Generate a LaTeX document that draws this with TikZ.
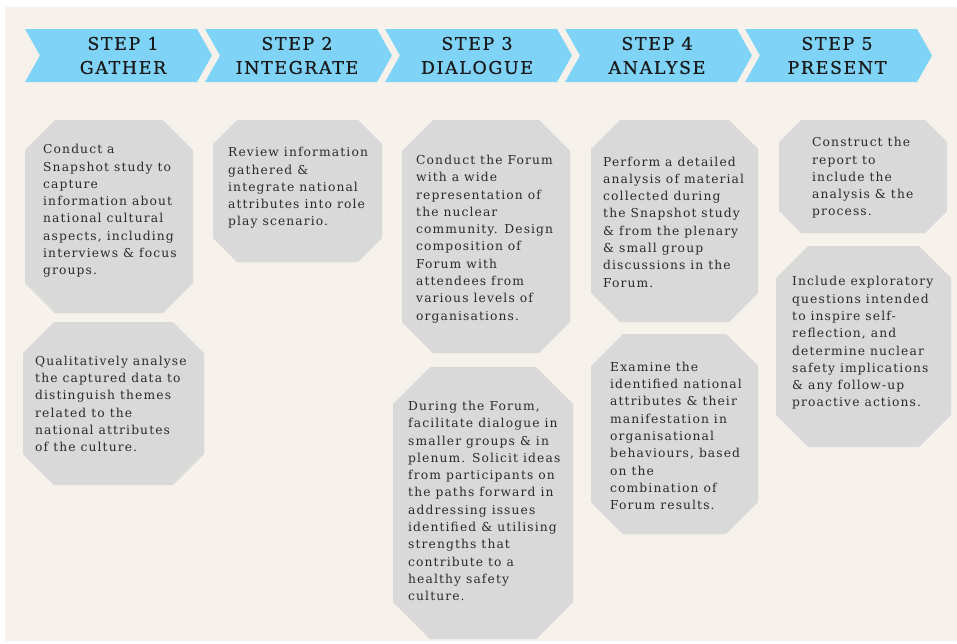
\documentclass[tikz,border=0pt]{standalone}
\usepackage{fontspec}
\setmainfont{DejaVu Serif}[LetterSpace=9]
\newfontfamily\headfont{DejaVu Serif}[LetterSpace=9,FakeBold=0.6]
\definecolor{paper}{HTML}{F6F1EA}
\definecolor{chevblue}{HTML}{7ED3F7}
\definecolor{boxgray}{HTML}{D9D9D9}
\definecolor{inkdark}{HTML}{1A1A1A}
\definecolor{inkbody}{HTML}{2B2B2B}

\tikzstyle{head}=[align=center,inner sep=0pt,text=inkdark,font=\headfont\fontsize{17.5}{24}\selectfont]
\tikzstyle{body}=[anchor=west,align=left,inner sep=0pt,text=inkbody,font=\fontsize{12.3}{17.3}\selectfont]

% chevron with its left edge at #1
\newcommand{\chev}[1]{\fill[chevblue] (#1,29) -- (#1+172,29) -- (#1+187,55.5) -- (#1+172,82) -- (#1,82) -- (#1+15,55.5) -- cycle;}
% octagon: left, top, right, bottom, corner cut
\newcommand{\octa}[5]{\fill[boxgray] (#1+#5,#2) -- (#3-#5,#2) -- (#3,#2+#5) -- (#3,#4-#5) -- (#3-#5,#4) -- (#1+#5,#4) -- (#1,#4-#5) -- (#1,#2+#5) -- cycle;}

\begin{document}
\begin{tikzpicture}[x=1pt,y=-1pt]
	\useasboundingbox (0,0) rectangle (957,643);
	\fill[white] (0,0) rectangle (957,643);
	\fill[paper] (5,7) rectangle (957,641);
	
	\chev{25} \chev{205} \chev{385} \chev{565} \chev{745}
	
	\node[head] (s1) at (123,55.5) {STEP 1\\GATHER};
	\node[head] (s2) at (297,55.5) {STEP 2\\INTEGRATE};
	\node[head] (s3) at (477,55.5) {STEP 3\\DIALOGUE};
	\node[head] (s4) at (657,55.5) {STEP 4\\ANALYSE};
	\node[head] (s5) at (837,55.5) {STEP 5\\PRESENT};
	
	\octa{25}{120}{193}{313}{30}
	\octa{23}{322}{204}{485}{31}
	\octa{213}{120}{382}{262}{24}
	\octa{402}{120}{570}{353}{31}
	\octa{393}{367}{573}{639}{37}
	\octa{591}{120}{758}{322}{29}
	\octa{591}{334}{758}{534}{32}
	\octa{779}{120}{947}{233}{22}
	\octa{776}{246}{951}{447}{32}
	
	\node[body] (g1) at (43,211) {Conduct a\\Snapshot study to\\capture\\information about\\national cultural\\aspects, including\\interviews \& focus\\groups.};
	\node[body] (g2) at (35,404) {Qualitatively analyse\\the captured data to\\distinguish themes\\related to the\\national attributes\\of the culture.};
	\node[body] (i1) at (228,188) {Review information\\gathered \&\\integrate national\\attributes into role\\play scenario.};
	\node[body] (d1) at (416,239) {Conduct the Forum\\with a wide\\representation of\\the nuclear\\community. Design\\composition of\\Forum with\\attendees from\\various levels of\\organisations.};
	\node[body] (d2) at (408,501) {During the Forum,\\facilitate dialogue in\\smaller groups \& in\\plenum. Solicit ideas\\from participants on\\the paths forward in\\addressing issues\\identified \& utilising\\strengths that\\contribute to a\\healthy safety\\culture.};
	\node[body] (a1) at (603,222) {Perform a detailed\\analysis of material\\collected during\\the Snapshot study\\\& from the plenary\\\& small group\\discussions in the\\Forum.};
	\node[body] (a2) at (610,436) {Examine the\\identified national\\attributes \& their\\manifestation in\\organisational\\behaviours, based\\on the\\combination of\\Forum results.};
	\node[body] (p1) at (812,178) {Construct the\\report to\\include the\\analysis \& the\\process.};
	\node[body] (p2) at (792,343) {Include exploratory\\questions intended\\to inspire self-\\reflection, and\\determine nuclear\\safety implications\\\& any follow-up\\proactive actions.};
\end{tikzpicture}
\end{document}
